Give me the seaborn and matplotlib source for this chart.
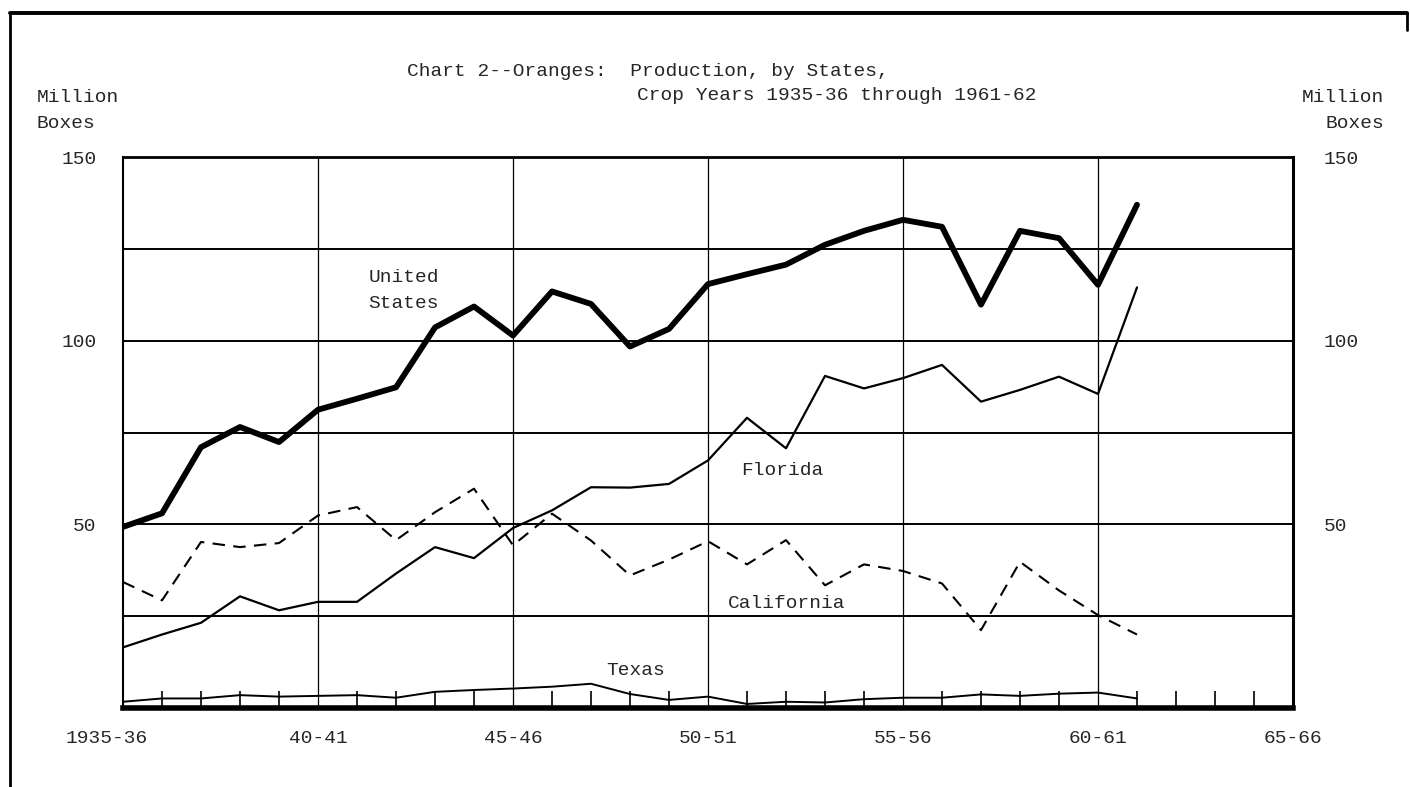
import matplotlib
matplotlib.use("Agg")
import matplotlib.pyplot as plt
import matplotlib.transforms as mtransforms
import seaborn as sns
import pandas as pd
from matplotlib.lines import Line2D
from matplotlib.ticker import MultipleLocator

# ---- data (million boxes, crop years starting 1935 .. 1961) ----
years = list(range(1935, 1962))
united_states = [49.3, 53, 71, 76.5, 72.4, 81.2, 84.2, 87.3, 103.6, 109.3, 101.4, 113.4, 110,
                 98.4, 103.2, 115.4, 118.1, 120.7, 126.1, 129.9, 132.9, 131, 109.8, 129.9,
                 127.9, 115.2, 137]
florida = [16.5, 20, 23.2, 30.4, 26.6, 28.9, 28.9, 36.6, 43.8, 40.8, 49, 53.8, 60.1,
           60, 61, 67.4, 79, 70.7, 90.4, 87, 89.8, 93.4, 83.4, 86.6, 90.2, 85.5, 114.5]
california = [34.3, 29.3, 45.2, 43.8, 44.9, 52.4, 54.7, 45.7, 53.3, 59.7, 44.3, 52.9, 45.6,
              36.1, 40.4, 45.4, 39.1, 45.7, 33.4, 39.1, 37.3, 33.9, 21.2, 39.8, 32, 25.3, 20]
texas = [1.7, 2.6, 2.6, 3.5, 3.1, 3.3, 3.5, 2.8, 4.4, 4.9, 5.3, 5.8, 6.6,
         3.8, 2.2, 3.1, 1.1, 1.7, 1.5, 2.4, 2.8, 2.8, 3.7, 3.3, 3.9, 4.2, 2.6]

xtick_pos = [1935, 1940, 1945, 1950, 1955, 1960, 1965]
xtick_labels = ["1935-36", "40-41", "45-46", "50-51", "55-56", "60-61", "65-66"]
ytick_pos = [0, 25, 50, 75, 100, 125, 150]
ytick_labels = ["", "", "50", "", "100", "", "150"]

sns.set_style("white")
plt.rcParams["font.family"] = ["Liberation Mono", "DejaVu Sans Mono"]
FS = 14

W, H = 1410, 787
fig = plt.figure(figsize=(W / 100, H / 100), dpi=100)
ax = fig.add_axes([123 / W, 1 - 708 / H, (1293 - 123) / W, (708 - 157) / H])

df = pd.DataFrame({"year": years, "us": united_states, "fl": florida,
                   "ca": california, "tx": texas})

sns.lineplot(data=df, x="year", y="us", ax=ax, color="black", lw=4.2, zorder=5)
sns.lineplot(data=df, x="year", y="fl", ax=ax, color="black", lw=1.6, zorder=5)
sns.lineplot(data=df, x="year", y="ca", ax=ax, color="black", lw=1.5, zorder=5,
             linestyle=(0, (6, 4)))
sns.lineplot(data=df, x="year", y="tx", ax=ax, color="black", lw=1.4, zorder=5)

ax.set_xlim(1935, 1965)
ax.set_ylim(0, 150)
ax.set_xticks(xtick_pos)
ax.set_xticklabels(xtick_labels, fontsize=FS)
ax.set_yticks(ytick_pos)
ax.set_yticklabels(ytick_labels, fontsize=FS)
ax.xaxis.set_minor_locator(MultipleLocator(1))
ax.tick_params(axis="x", which="major", length=0, pad=16)
ax.tick_params(axis="x", which="minor", direction="in", length=12, width=1.2,
               color="black", bottom=True)
ax.tick_params(axis="y", which="both", length=0, pad=19)
ax.set_xlabel("")
ax.set_ylabel("")

# shift first x label to the left as in the original
first = ax.get_xticklabels()[0]
first.set_transform(first.get_transform() +
                    mtransforms.ScaledTranslation(-16 / 100, 0, fig.dpi_scale_trans))

# right-hand value labels
ax2 = ax.twinx()
ax2.set_ylim(0, 150)
ax2.set_yticks(ytick_pos)
ax2.set_yticklabels(ytick_labels, fontsize=FS)
ax2.tick_params(axis="y", length=0, pad=22)
for s in ax2.spines.values():
    s.set_visible(False)
ax2.set_ylabel("")

# grid
for v in [25, 50, 75, 100, 125]:
    ax.axhline(v, color="black", lw=1.4, zorder=2)
for v in [1940, 1945, 1950, 1955, 1960]:
    ax.axvline(v, color="black", lw=0.9, zorder=2)

for side, w in [("left", 1.5), ("right", 2.2), ("top", 2.0), ("bottom", 4.0)]:
    ax.spines[side].set_visible(True)
    ax.spines[side].set_color("black")
    ax.spines[side].set_linewidth(w)

# series labels
ax.text(1941.3, (708 - 278) / 3.673, "United", fontsize=FS, ha="left", va="center")
ax.text(1941.3, (708 - 304) / 3.673, "States", fontsize=FS, ha="left", va="center")
ax.text(1950.85, 64.7, "Florida", fontsize=FS, ha="left", va="center")
ax.text(1950.5, 28.5, "California", fontsize=FS, ha="left", va="center")
ax.text(1947.4, 10.3, "Texas", fontsize=FS, ha="left", va="center")

# titles
fig.text(407 / W, 1 - 72 / H, "Chart 2--Oranges:  Production, by States,",
         fontsize=FS, ha="left", va="center")
fig.text(637 / W, 1 - 95 / H, "Crop Years 1935-36 through 1961-62",
         fontsize=FS, ha="left", va="center")
fig.text(37 / W, 1 - 98 / H, "Million", fontsize=FS, ha="left", va="center")
fig.text(37 / W, 1 - 123 / H, "Boxes", fontsize=FS, ha="left", va="center")
fig.text(1384 / W, 1 - 98 / H, "Million", fontsize=FS, ha="right", va="center")
fig.text(1384 / W, 1 - 123 / H, "Boxes", fontsize=FS, ha="right", va="center")

# page border
fig.add_artist(Line2D([10 / W, 1407 / W], [1 - 13 / H, 1 - 13 / H],
                      transform=fig.transFigure, color="black", lw=2.8))
fig.add_artist(Line2D([10 / W, 10 / W], [0.0, 1 - 13 / H],
                      transform=fig.transFigure, color="black", lw=2.0))
fig.add_artist(Line2D([1407 / W, 1407 / W], [1 - 13 / H, 1 - 30 / H],
                      transform=fig.transFigure, color="black", lw=2.0))

fig.savefig("out.png", dpi=100, facecolor="white")
